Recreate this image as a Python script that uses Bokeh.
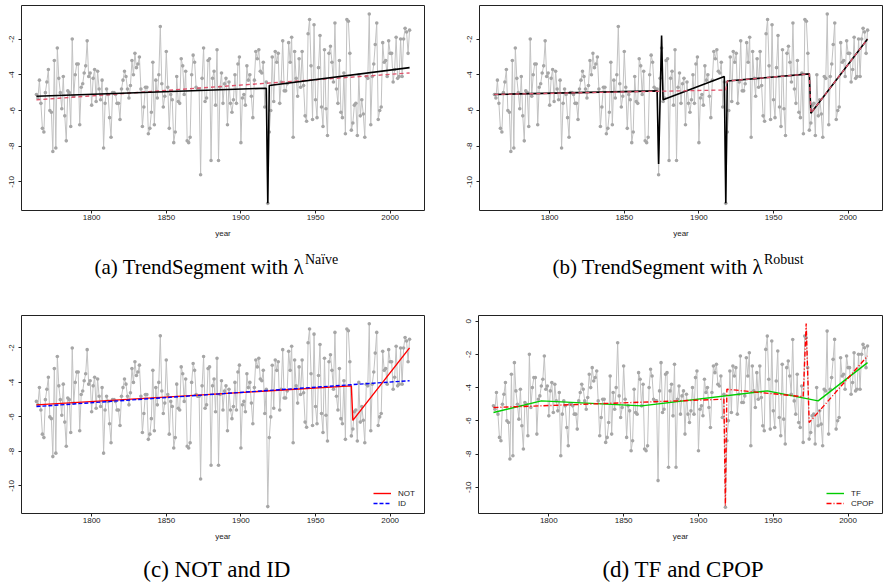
from bokeh.plotting import figure
from bokeh.layouts import column, row
from bokeh.models import Legend, LegendItem, FixedTicker, Range1d
from bokeh.core.properties import value
from bokeh.embed import file_html
from bokeh.resources import INLINE

years = list(range(1763, 2014))
temperature = [
    -5.1, -5.3, -4.3, -5.6, -7.0, -7.2, -5.0,
    -4.4, -3.7, -6.0, -6.1, -8.3, -3.2, -8.1, -2.5, -4.2, -5.0,
    -5.9, -4.1, -6.3, -7.7, -4.9, -5.0, -6.9, -2.0, -5.2, -4.0,
    -3.4, -3.4, -6.8, -4.7, -4.5, -3.9, -3.5, -2.1, -4.1, -3.9,
    -5.7, -4.2, -3.7, -5.5, -3.8, -4.8, -5.4, -4.3, -8.1, -5.6,
    -4.8, -5.1, -6.4, -7.5, -5.0, -5.0, -5.1, -5.6, -5.6, -6.5,
    -4.8, -4.3, -3.8, -4.1, -4.8, -5.3, -4.6, -3.2, -4.0, -2.8,
    -3.6, -3.4, -3.0, -4.8, -6.9, -5.8, -4.7, -4.7, -7.3, -7.0,
    -6.1, -3.3, -6.8, -4.3, -5.3, -4.0, -1.3, -4.5, -5.8, -5.2,
    -2.7, -4.7, -7.0, -5.1, -5.4, -7.8, -7.2, -4.1, -5.5, -5.6,
    -3.1, -3.5, -5.1, -3.8, -7.7, -7.8, -7.5, -4.0, -2.9, -3.3,
    -4.7, -4.8, -4.8, -9.6, -4.2, -2.5, -5.5, -5.3, -3.2, -3.1,
    -8.8, -4.2, -3.8, -5.7, -2.6, -8.8, -4.7, -3.9, -5.6, -4.5,
    -4.2, -6.8, -4.4, -5.6, -6.1, -5.4, -4.0, -5.6, -3.4, -3.0,
    -7.8, -5.3, -5.1, -5.7, -3.5, -4.3, -4.0, -5.2, -6.4, -4.3,
    -2.7, -3.1, -2.6, -3.8, -3.9, -3.3, -5.8, -4.4, -11.2, -7.2,
    -6.0, -3.0, -5.5, -2.7, -3.3, -2.8, -5.6, -4.4, -2.1, -4.9,
    -4.9, -4.5, -2.2, -3.3, -1.9, -7.5, -2.7, -4.2, -5.2, -3.1,
    -4.7, -2.7, -4.6, -6.3, -6.6, -1.7, -0.9, -3.5, -6.5, -1.2,
    -5.4, -6.4, -3.6, -1.8, -5.8, -6.9, -2.6, -5.9, -7.4, -2.8,
    -2.4, -3.3, -4.4, -1.1, -4.8, -5.6, -3.2, -6.1, -6.4, -3.9,
    -7.3, -0.9, -1.0, -2.8, -7.1, -6.7, -5.7, -5.6, -7.4, -4.0,
    -6.3, -5.4, -6.2, -7.5, -4.1, -4.2, -0.6, -6.8, -4.1, -3.4,
    -2.3, -1.1, -6.5, -6.0, -5.8, -2.2, -3.3, -3.2, -4.1, -2.1,
    -2.8, -2.8, -4.4, -3.7, -1.9, -4.2, -4.1, -2.0, -4.1, -2.0,
    -1.4, -1.6, -2.8, -1.5,
]

# fitted piecewise-linear curves (knot years, knot values)
naive_x = [1763, 1917, 1918, 1919, 2013]
naive_y = [-5.2, -4.75, -11.2, -4.6, -3.6]
naive_ref_x = [1763, 2013]
naive_ref_y = [-5.4, -3.9]
robust_x = [1763, 1872, 1873, 1875, 1876, 1917, 1918, 1919, 1974, 1975, 2013]
robust_y = [-5.1, -4.9, -9.0, -1.8, -5.4, -4.1, -11.2, -4.35, -3.95, -6.15, -2.0]
robust_ref_x = [1763, 1918, 1919, 1974, 1975, 2013]
robust_ref_y = [-5.1, -4.85, -4.35, -3.95, -6.15, -2.0]
not_x = [1763, 1974, 1975, 2013]
not_y = [-5.3, -4.2, -6.2, -2.0]
id_x = [1763, 2013]
id_y = [-5.4, -3.9]
tf_x = [1763, 1795, 1862, 1946, 1980, 2013]
tf_y = [-5.5, -4.8, -5.1, -4.2, -4.8, -2.5]
cpop_x = [1763, 1917, 1918, 1919, 1970, 1972, 1974, 2013]
cpop_y = [-5.2, -4.7, -11.1, -4.1, -4.55, -0.15, -6.1, -2.1]

x_ticks = [1800, 1850, 1900, 1950, 2000]
y_ticks = [-10, -8, -6, -4, -2]
y_ticks_d = [-10, -8, -6, -4, -2, 0]

captions = ["(a) TrendSegment with λ", "(b) TrendSegment with λ", "(c) NOT and ID", "(d) TF and CPOP"]
superscripts = ["Naïve", "Robust", "", ""]

SANS = "Liberation Sans"
SERIF = "Liberation Serif"
SUP_FS = 14


def make_panel(width, height, left, right, top, bottom, yr, yt):
    p = figure(width=width, height=height, output_backend="svg", toolbar_location=None,
               x_range=Range1d(1753, 2023), y_range=Range1d(*yr),
               min_border_left=left, min_border_right=right,
               min_border_top=top, min_border_bottom=bottom)
    p.grid.visible = False
    p.outline_line_color = "#222222"
    p.outline_line_width = 1
    p.background_fill_color = "white"
    p.border_fill_color = "white"
    for ax in (p.xaxis[0], p.yaxis[0]):
        ax.axis_line_color = None
        ax.minor_tick_line_color = None
        ax.major_tick_in = 0
        ax.major_tick_out = 3
        ax.major_tick_line_color = "#222222"
        ax.major_label_text_font = SANS
        ax.major_label_text_font_size = "8px"
        ax.major_label_text_color = "#222222"
    p.xaxis[0].ticker = FixedTicker(ticks=x_ticks)
    p.xaxis[0].major_label_standoff = 1
    p.xaxis[0].axis_label = "year"
    p.xaxis[0].axis_label_text_font = SANS
    p.xaxis[0].axis_label_text_font_size = "8px"
    p.xaxis[0].axis_label_text_font_style = "normal"
    p.xaxis[0].axis_label_text_color = "#222222"
    p.xaxis[0].axis_label_standoff = 6
    p.yaxis[0].ticker = FixedTicker(ticks=yt)
    p.yaxis[0].major_label_overrides = {t: str(t) for t in yt}
    p.yaxis[0].major_label_orientation = "vertical"
    p.yaxis[0].major_label_standoff = 4
    p.line(years, temperature, line_color="#c2c2c2", line_width=1)
    p.scatter(years, temperature, size=3.6, fill_color="#a6a6a6", line_color=None)
    return p


def caption_fig(width, height, idx, center, baseline, fs):
    c = figure(width=width, height=height, output_backend="svg", toolbar_location=None,
               x_range=Range1d(0, width), y_range=Range1d(0, height),
               x_axis_type=None, y_axis_type=None, min_border=0)
    c.grid.visible = False
    c.outline_line_color = None
    c.background_fill_color = "white"
    c.border_fill_color = "white"
    main = captions[idx]
    sup = superscripts[idx]
    if sup:
        main_w = 10.08 * fs
        sup_w = (2.39 if sup == "Naïve" else 2.83) * SUP_FS
        x0 = center - (main_w + sup_w) / 2 + main_w
        c.text(x=[x0], y=[baseline], text=[main], text_font=value(SERIF),
               text_font_size=f"{fs}px", text_align="right", text_baseline="alphabetic",
               text_color="black")
        c.text(x=[x0 + 1], y=[baseline + 7], text=[sup], text_font=value(SERIF),
               text_font_size=f"{SUP_FS}px", text_align="left", text_baseline="alphabetic",
               text_color="black")
    else:
        c.text(x=[center], y=[baseline], text=[main], text_font=value(SERIF),
               text_font_size=f"{fs}px", text_align="center", text_baseline="alphabetic",
               text_color="black")
    return c


yr_abc = (-11.6, -0.12)
yr_d = (-11.58, 0.34)

# (a)
pa = make_panel(441, 240, 21, 17, 5, 30, yr_abc, y_ticks)
pa.line(naive_ref_x, naive_ref_y, line_color="#DF536B", line_width=1.3, line_dash="4 3")
pa.line(naive_x, naive_y, line_color="black", line_width=1.6)
ca = caption_fig(441, 52, 0, 220, 26, 21)

# (b)
pb = make_panel(442, 240, 38, 1, 5, 30, yr_abc, y_ticks)
pb.line(robust_x, robust_y, line_color="black", line_width=1.6)
pb.line(robust_ref_x, robust_ref_y, line_color="#DF536B", line_width=1.3, line_dash="4 3")
cb = caption_fig(442, 52, 1, 225, 26, 21)

# (c)
pc = make_panel(441, 251, 21, 17, 23, 30, yr_abc, y_ticks)
r_not = pc.line(not_x, not_y, line_color="#FF0000", line_width=1.4)
r_id = pc.line(id_x, id_y, line_color="#0000FF", line_width=1.4, line_dash="4 2")
leg_c = Legend(items=[LegendItem(label="NOT", renderers=[r_not]),
                      LegendItem(label="ID", renderers=[r_id])],
               location=(352, 5), border_line_color=None, background_fill_alpha=0,
               padding=0, margin=0, spacing=0, glyph_width=18, glyph_height=10,
               label_height=10, label_standoff=7, label_text_font=SANS,
               label_text_font_size="8px", label_text_color="#222222")
pc.add_layout(leg_c)
cc = caption_fig(441, 41, 2, 214, 15, 23)

# (d)
pd = make_panel(442, 251, 37, 1, 23, 30, yr_d, y_ticks_d)
r_tf = pd.line(tf_x, tf_y, line_color="#00CC00", line_width=1.4)
r_cpop = pd.line(cpop_x, cpop_y, line_color="#FF0000", line_width=1.4, line_dash="5 2 1 2")
leg_d = Legend(items=[LegendItem(label="TF", renderers=[r_tf]),
                      LegendItem(label="CPOP", renderers=[r_cpop])],
               location=(348, 5), border_line_color=None, background_fill_alpha=0,
               padding=0, margin=0, spacing=0, glyph_width=18, glyph_height=10,
               label_height=10, label_standoff=7, label_text_font=SANS,
               label_text_font_size="8px", label_text_color="#222222")
pd.add_layout(leg_d)
cd = caption_fig(442, 41, 3, 224, 15, 23)

layout = column(row(column(pa, ca), column(pb, cb)), row(column(pc, cc), column(pd, cd)))
open("out.html", "w").write(file_html(layout, INLINE))
